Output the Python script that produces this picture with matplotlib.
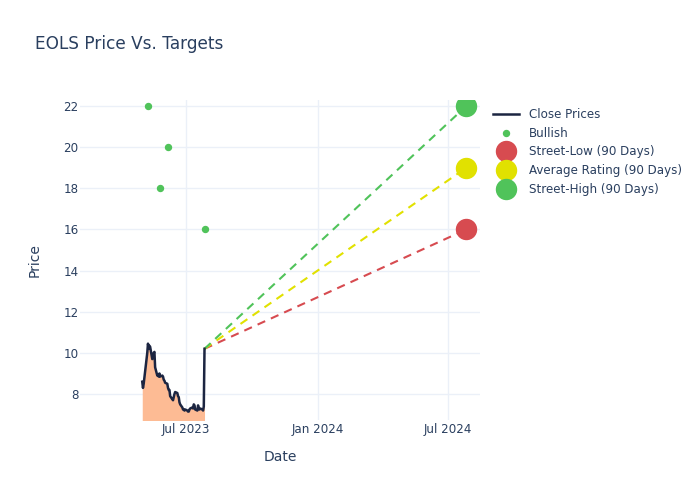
import numpy as np
import pandas as pd
import matplotlib
matplotlib.use("Agg")
import matplotlib.pyplot as plt
import matplotlib.dates as mdates

# close prices, one per business day from 2023-05-01
close_prices = [8.6, 8.3, 8.5, 8.8, 9.1, 10.0, 10.45, 10.2, 10.35, 10.3,
                9.7, 9.85, 10.0, 10.05, 9.3, 8.9, 8.95, 8.85, 9.0, 8.85,
                8.9, 8.85, 8.7, 8.65, 8.55, 8.5, 8.3, 8.2, 8.2, 7.9,
                7.75, 7.7, 7.85, 8.0, 8.1, 8.05, 7.9, 7.85, 7.6, 7.5,
                7.35, 7.25, 7.25, 7.2, 7.25, 7.2, 7.15, 7.15, 7.25, 7.3,
                7.35, 7.3, 7.5, 7.45, 7.25, 7.2, 7.45, 7.3, 7.25, 7.3,
                7.25, 7.2, 7.4, 10.2]
price_dates = pd.bdate_range("2023-05-01", periods=len(close_prices))

bullish_dates = pd.to_datetime(["2023-05-09", "2023-05-26", "2023-06-06", "2023-07-27"])
bullish_targets = [22, 18, 20, 16]

target_date = pd.Timestamp("2024-07-27")
target_names = ["Street-Low (90 Days)", "Average Rating (90 Days)", "Street-High (90 Days)"]
target_values = [16, 19, 22]
target_colors = ["#d74b50", "#e1e100", "#50c35a"]

text_col = "#2a3f5f"
grid_col = "#ebf0f8"

plt.rcParams["font.family"] = ["DejaVu Sans"]

fig = plt.figure(figsize=(7, 5), dpi=100)
ax = fig.add_axes([80 / 700, 80 / 500, 400 / 700, 320 / 500])

ax.fill_between(price_dates, close_prices, 0, color="#fdbb94", lw=0, zorder=1)
ax.plot(price_dates, close_prices, color="#1c2541", lw=1.8, label="Close Prices", zorder=3)
ax.plot(bullish_dates, bullish_targets, "o", color="#50c35a", ms=4.3, ls="none",
        label="Bullish", zorder=4)

last_date = price_dates[-1]
last_price = close_prices[-1]
for name, val, col in zip(target_names, target_values, target_colors):
    ax.plot([last_date, target_date], [last_price, val], ls=(0, (4, 3)), color=col,
            lw=1.5, zorder=2)
    ax.plot([target_date], [val], "o", color=col, ms=14.4, ls="none", label=name, zorder=5)

ax.set_xlim(pd.Timestamp("2023-02-03"), pd.Timestamp("2024-08-15"))
ax.set_ylim(6.74, 22.29)
ax.set_yticks([8, 10, 12, 14, 16, 18, 20, 22])
ax.set_xticks(pd.to_datetime(["2023-07-01", "2024-01-01", "2024-07-01"]))
ax.xaxis.set_major_formatter(mdates.DateFormatter("%b %Y"))

ax.grid(True, color=grid_col, lw=1)
ax.set_axisbelow(True)
for s in ax.spines.values():
    s.set_visible(False)
ax.tick_params(axis="x", length=0, labelsize=8.6, labelcolor=text_col, pad=2)
ax.tick_params(axis="y", length=0, labelsize=8.6, labelcolor=text_col, pad=1)

ax.set_xlabel("Date", fontsize=10, color=text_col, labelpad=10)
ax.set_ylabel("Price", fontsize=10, color=text_col, labelpad=16)
fig.text(35 / 700, 1 - 44 / 500, "EOLS Price Vs. Targets", fontsize=12.2, color=text_col,
         va="center", ha="left")

leg = ax.legend(loc="upper left", bbox_to_anchor=(1.02, 0.99), frameon=False,
                fontsize=8.6, labelcolor=text_col, handlelength=2.2, labelspacing=0.48,
                borderaxespad=0)

fig.savefig("out.png", dpi=100)
